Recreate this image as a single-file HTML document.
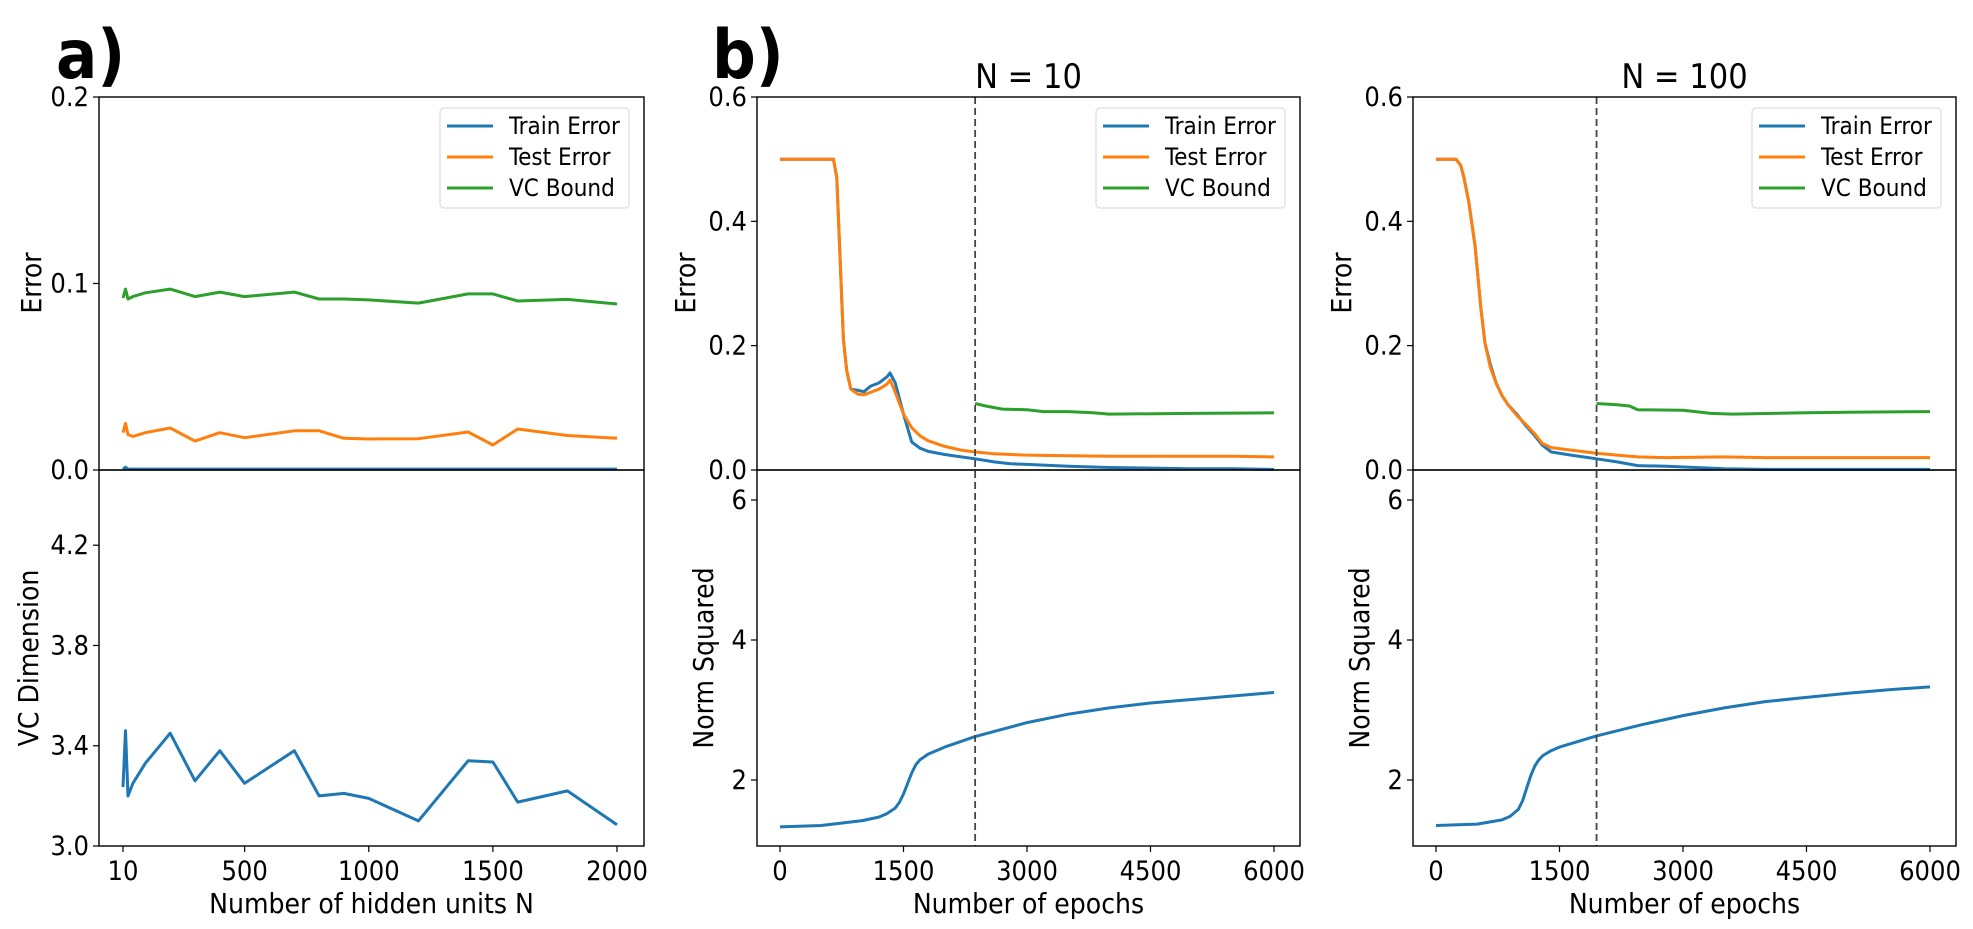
<!DOCTYPE html>
<html><head><meta charset="utf-8">
<style>
html,body{margin:0;padding:0;background:#fff;}
svg{display:block;font-family:"DejaVu Sans Condensed","DejaVu Sans","Liberation Sans",sans-serif;}
</style></head>
<body>
<svg id="fig" width="1973" height="929" viewBox="0 0 1973 929" xmlns="http://www.w3.org/2000/svg"></svg>
<script>
// ---------- Panel a data ----------
const hiddenUnits = [10,20,30,50,100,200,300,400,500,700,800,900,1000,1200,1400,1500,1600,1800,2000];
const aTrain = [0.0005,0.0015,0.0005,0.0005,0.0005,0.0005,0.0005,0.0005,0.0005,0.0005,0.0005,0.0005,0.0005,0.0005,0.0005,0.0005,0.0005,0.0005,0.0005];
const aTest = [0.0200,0.0250,0.0190,0.0180,0.0200,0.0225,0.0155,0.0200,0.0173,0.0210,0.0210,0.0170,0.0166,0.0168,0.0204,0.0134,0.0220,0.0185,0.0170];
const aVC = [0.0922,0.0970,0.0917,0.0930,0.0950,0.0970,0.0930,0.0954,0.0930,0.0954,0.0917,0.0917,0.0912,0.0895,0.0944,0.0944,0.0906,0.0915,0.0890];
const aVCdim = [3.235,3.46,3.20,3.25,3.33,3.45,3.26,3.38,3.25,3.38,3.20,3.21,3.19,3.10,3.34,3.335,3.175,3.22,3.085];
const aXTicks = [10,500,1000,1500,2000];
const aYTopTicks = ["0.0","0.1","0.2"];
const aYBotTicks = ["3.0","3.4","3.8","4.2"];

// ---------- Panel b, N=10 ----------
const b1Epochs = [0,300,650,690,730,770,810,860,950,1020,1100,1200,1300,1336,1400,1500,1600,1700,1800,2000,2200,2370,2600,2800,3000,3500,4000,4500,5000,5500,6000];
const b1Train = [0.5,0.5,0.5,0.47,0.34,0.21,0.16,0.13,0.128,0.126,0.135,0.14,0.15,0.156,0.14,0.09,0.045,0.035,0.030,0.025,0.021,0.018,0.013,0.010,0.009,0.006,0.004,0.003,0.002,0.002,0.001];
const b1Test = [0.5,0.5,0.5,0.47,0.34,0.21,0.16,0.13,0.122,0.121,0.125,0.13,0.138,0.145,0.125,0.09,0.068,0.055,0.047,0.038,0.032,0.029,0.026,0.025,0.024,0.023,0.022,0.022,0.022,0.022,0.021];
const b1VCEpochs = [2370,2500,2700,3000,3200,3500,3800,4000,5000,6000];
const b1VC = [0.107,0.103,0.098,0.097,0.094,0.094,0.092,0.090,0.091,0.092];
const b1NormEpochs = [0,500,1000,1200,1300,1400,1450,1500,1550,1600,1650,1700,1800,2000,2370,3000,3500,4000,4500,5000,5500,6000];
const b1Norm = [1.33,1.35,1.42,1.47,1.52,1.6,1.68,1.8,1.95,2.1,2.22,2.29,2.37,2.47,2.62,2.82,2.94,3.03,3.1,3.15,3.2,3.25];
const b1Cut = 2370;

// ---------- Panel b, N=100 ----------
const b2Epochs = [0,243,300,340,400,475,545,595,660,730,800,875,980,1080,1200,1290,1400,1640,1950,2200,2450,2800,3500,4000,5000,6000];
const b2Train = [0.5,0.5,0.49,0.47,0.43,0.36,0.26,0.204,0.17,0.14,0.12,0.105,0.09,0.073,0.055,0.040,0.029,0.024,0.018,0.013,0.007,0.006,0.002,0.001,0.001,0.001];
const b2Test = [0.5,0.5,0.49,0.47,0.43,0.36,0.26,0.204,0.165,0.14,0.12,0.105,0.088,0.075,0.058,0.043,0.036,0.032,0.027,0.024,0.021,0.020,0.021,0.020,0.020,0.020];
const b2VCEpochs = [1950,2200,2350,2450,3000,3340,3600,4500,5000,6000];
const b2VC = [0.107,0.105,0.103,0.097,0.096,0.091,0.090,0.092,0.093,0.094];
const b2NormEpochs = [0,500,800,900,1000,1050,1100,1150,1200,1250,1300,1400,1500,1950,2500,3000,3500,4000,4500,5000,5500,6000];
const b2Norm = [1.35,1.37,1.43,1.48,1.58,1.7,1.88,2.06,2.2,2.29,2.35,2.42,2.47,2.63,2.79,2.92,3.03,3.12,3.18,3.24,3.29,3.33];
const b2Cut = 1950;

const bXTicks = [0,1500,3000,4500,6000];
const bYErrTicks = ["0.0","0.2","0.4","0.6"];
const bYNormTicks = [2,4,6];

const C = {blue:"#1f77b4", orange:"#ff7f0e", green:"#2ca02c"};
const NS = "http://www.w3.org/2000/svg";
const svg = document.getElementById("fig");
const FS = 27, LFS = 28, LEG = 24;

function mk(tag, attrs, parent){
  const e = document.createElementNS(NS, tag);
  for (const k in attrs) e.setAttribute(k, attrs[k]);
  (parent||svg).appendChild(e);
  return e;
}
function txt(x,y,s,size,anchor,parent,extra){
  const t = mk("text",{x:x,y:y,"font-size":size,"text-anchor":anchor||"middle",fill:"#000"},parent);
  if(extra) for(const k in extra) t.setAttribute(k,extra[k]);
  t.textContent = s;
  return t;
}
function lin(d0,d1,p0,p1){ return v => p0 + (v-d0)*(p1-p0)/(d1-d0); }
function line(xs, ys, sx, sy, color, name, parent){
  let d = "";
  for(let i=0;i<xs.length;i++) d += (i?"L":"M")+sx(xs[i]).toFixed(1)+","+sy(ys[i]).toFixed(1);
  const p = mk("path",{d:d,fill:"none",stroke:color,"stroke-width":3,"stroke-linejoin":"round"},parent);
  
  
  return p;
}
function frame(x0,y0,x1,y1,name){
  const r = mk("rect",{x:x0,y:y0,width:x1-x0,height:y1-y0,fill:"none",stroke:"#000","stroke-width":1.4});
  
  
}
function yticks(x0, vals, sy, labels, group){
  vals.forEach((v,i)=>{
    const y = sy(v);
    mk("line",{x1:x0-6,x2:x0,y1:y,y2:y,stroke:"#000","stroke-width":1.2},group);
    const t = txt(x0-10,y+9,labels[i],FS,"end",group);
    
    
  });
}
function xticks(y0, vals, sx, group){
  vals.forEach(v=>{
    const x = sx(v);
    mk("line",{x1:x,x2:x,y1:y0,y2:y0+6,stroke:"#000","stroke-width":1.2},group);
    const t = txt(x,y0+34,String(v),FS,"middle",group);
    
    
  });
}
function ylabel(x,y,s,name){
  const t = txt(x,y,s,LFS,"middle",svg,{transform:"rotate(-90 "+x+" "+y+")"});
  
  
}
function legend(left, top){
  const g = mk("g",{});
  
  
  mk("rect",{x:left,y:top,width:189,height:100,rx:4,fill:"#fff","fill-opacity":0.8,stroke:"#ddd","stroke-width":1.2},g);
  const items = [["Train Error",C.blue],["Test Error",C.orange],["VC Bound",C.green]];
  items.forEach((it,i)=>{
    const y = top+18+i*31;
    const e = mk("g",{},g);
    
    
    mk("line",{x1:left+7,x2:left+53,y1:y,y2:y,stroke:it[1],"stroke-width":3},e);
    txt(left+69,y+8,it[0],LEG,"start",e);
  });
}

// ---------- Panel a ----------
const aL=99, aR=644, aT=97, aM=470, aB=846;
const ax = lin(10,2000,123,617);
const ayTop = lin(0,0.2,470,97);
const ayBot = lin(3.0,4.5,846,470);
const ga = mk("g",{});  
line(hiddenUnits,aVC,ax,ayTop,C.green,"vc-bound-line",ga);
line(hiddenUnits,aTest,ax,ayTop,C.orange,"test-error-line",ga);
line(hiddenUnits,aTrain,ax,ayTop,C.blue,"train-error-line",ga);
line(hiddenUnits,aVCdim,ax,ayBot,C.blue,"vc-dimension-line",ga);
frame(aL,aT,aR,aM,"panel-a-top-axes");
frame(aL,aM,aR,aB,"panel-a-bottom-axes");
yticks(aL,[0,0.1,0.2],ayTop,aYTopTicks,ga);
yticks(aL,[3.0,3.4,3.8,4.2],ayBot,aYBotTicks,ga);
xticks(aB,aXTicks,ax,ga);
ylabel(41,283,"Error","a-error-y-label");
ylabel(38,658,"VC Dimension","vc-dimension-y-label");
let t = txt((aL+aR)/2,913,"Number of hidden units N",LFS);  
legend(440,108);
t = txt(56,78,"a)",68,"start",svg,{"font-weight":"bold"});  

// ---------- Panel b ----------
function panelB(L,R,x0,x6000,ep,tr,te,vcE,vc,nE,nv,cut,title,name){
  const g = mk("g",{});  
  const sx = lin(0,6000,x0,x6000);
  const sErr = lin(0,0.6,470,97);
  const sNorm = lin(2,6,780,500);
  line(vcE,vc,sx,sErr,C.green,"vc-bound-line",g);
  line(ep,tr,sx,sErr,C.blue,"train-error-line",g);
  line(ep,te,sx,sErr,C.orange,"test-error-line",g);
  line(nE,nv,sx,sNorm,C.blue,"norm-squared-line",g);
  const dl = mk("line",{x1:sx(cut),x2:sx(cut),y1:97,y2:846,stroke:"#444","stroke-width":1.8,"stroke-dasharray":"7,4"},g);
   
  frame(L,97,R,470,name+"-top-axes");
  frame(L,470,R,846,name+"-bottom-axes");
  yticks(L,[0,0.2,0.4,0.6],sErr,bYErrTicks,g);
  yticks(L,bYNormTicks,sNorm,bYNormTicks.map(String),g);
  xticks(846,bXTicks,sx,g);
  const tt = txt((L+R)/2,88,title,34,"middle",g);  
  const xl = txt((L+R)/2,913,"Number of epochs",LFS,"middle",g);  
  ylabel(L-62,283,"Error","error-y-label");
  ylabel(L-44,658,"Norm Squared","norm-squared-y-label");
  legend(R-204,108);
}
panelB(757,1300,780,1274,b1Epochs,b1Train,b1Test,b1VCEpochs,b1VC,b1NormEpochs,b1Norm,b1Cut,"N = 10","panel-b-n10");
panelB(1413,1956,1436,1930,b2Epochs,b2Train,b2Test,b2VCEpochs,b2VC,b2NormEpochs,b2Norm,b2Cut,"N = 100","panel-b-n100");
t = txt(712,78,"b)",68,"start",svg,{"font-weight":"bold"});  
</script>
</body></html>
